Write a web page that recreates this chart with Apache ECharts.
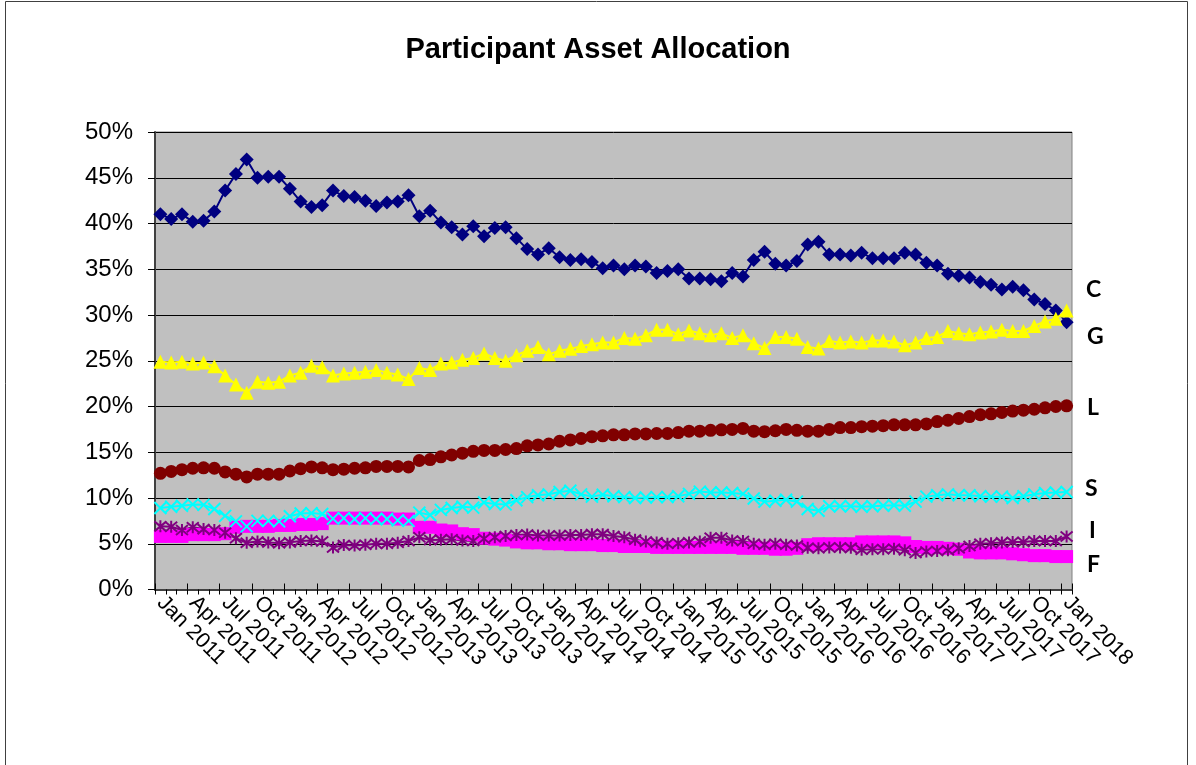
<!DOCTYPE html>
<html>
<head>
<meta charset="utf-8">
<script src="https://cdn.jsdelivr.net/npm/echarts@6/dist/echarts.min.js"></script>
<style>
html,body{margin:0;padding:0;background:#ffffff;}
#chart{width:1196px;height:765px;}
</style>
</head>
<body>
<div id="chart"></div>
<script>
// ---- categories (monthly, Jan 2011 .. Jan 2018) ----
const monthNames = ['Jan','Feb','Mar','Apr','May','Jun','Jul','Aug','Sep','Oct','Nov','Dec'];
const years = [2011, 2012, 2013, 2014, 2015, 2016, 2017, 2018];
const categories = [];
years.forEach(function (y) {
  monthNames.forEach(function (m, mi) {
    if (y < 2018 || mi === 0) categories.push(m + ' ' + y);
  });
});

// ---- series values (percent of assets) ----
const seriesC = [41.0, 40.5, 41.0, 40.2, 40.3, 41.3, 43.6, 45.4, 47.0, 45.0, 45.1, 45.1, 43.8, 42.4, 41.8, 42.0, 43.6, 43.0, 42.9, 42.5, 41.9, 42.3, 42.4, 43.1, 40.8, 41.4, 40.1, 39.6, 38.8,
  39.7, 38.6, 39.5, 39.6, 38.4, 37.2, 36.6, 37.3, 36.3, 36.0, 36.1, 35.8, 35.1, 35.4, 35.0, 35.4, 35.3, 34.6, 34.8, 35.0, 34.0, 34.0, 33.9, 33.7, 34.6, 34.2, 36.0, 36.9, 35.6,
  35.4, 35.9, 37.7, 38.0, 36.6, 36.6, 36.5, 36.8, 36.2, 36.2, 36.2, 36.8, 36.6, 35.7, 35.4, 34.5, 34.3, 34.1, 33.6, 33.3, 32.8, 33.1, 32.7, 31.7, 31.2, 30.5, 29.2];
const seriesG = [24.9, 24.8, 24.9, 24.7, 24.8, 24.4,
  23.4, 22.4, 21.5, 22.7, 22.6, 22.7, 23.4, 23.7, 24.45, 24.3, 23.4, 23.6, 23.7, 23.8, 24.0, 23.7, 23.5, 23.0, 24.2, 24.0, 24.7, 24.8,
  25.1, 25.3, 25.8, 25.3, 25.0, 25.6, 26.1, 26.5, 25.7, 26.1, 26.3, 26.6, 26.8, 27.0, 27.0, 27.5, 27.4, 27.8, 28.4, 28.4, 27.9, 28.3, 28.0, 27.8, 28.0, 27.5, 27.8, 26.9, 26.4,
  27.6, 27.6, 27.4, 26.5, 26.35, 27.15, 27.0, 27.1, 27.0, 27.2, 27.2, 27.1, 26.7, 27.0, 27.5, 27.6, 28.25, 28.0, 27.9, 28.1, 28.2, 28.4, 28.25, 28.25, 28.8, 29.3, 29.6, 30.5];
const seriesL = [12.7, 12.9, 13.1, 13.25, 13.3, 13.25, 12.85, 12.6, 12.3, 12.6, 12.6, 12.6, 12.95, 13.2, 13.4, 13.3, 13.1, 13.15, 13.25, 13.3, 13.45, 13.45, 13.45, 13.4, 14.1, 14.2, 14.5, 14.7, 14.9,
  15.1, 15.2, 15.2, 15.3, 15.4, 15.7, 15.8, 15.9, 16.2, 16.35, 16.5, 16.7, 16.8, 16.9, 16.9, 17.0, 17.0, 17.05, 17.05, 17.15, 17.3, 17.3, 17.4, 17.45, 17.5, 17.6, 17.3, 17.25, 17.35,
  17.5, 17.4, 17.3, 17.3, 17.5, 17.7, 17.7, 17.8, 17.85, 17.9, 18.0, 18.0, 18.0, 18.1, 18.35, 18.5, 18.7, 18.9, 19.1, 19.2, 19.35, 19.5, 19.6, 19.7, 19.85, 20.0, 20.07];
const seriesS = [8.9, 9.05, 9.15, 9.3, 9.25, 8.8, 8.05, 7.45, 6.9, 7.5, 7.5, 7.45, 8.0, 8.3, 8.35, 8.25, 7.75, 7.8, 7.7, 7.8, 7.7, 7.7, 7.55, 7.5, 8.4, 8.15, 8.7, 8.9, 9.05,
  8.95, 9.5, 9.35, 9.3, 9.75, 10.1, 10.3, 10.4, 10.65, 10.8, 10.4, 10.15, 10.35, 10.2, 10.1, 10.0, 10.05, 10.1, 10.1, 10.2, 10.45, 10.7, 10.6, 10.6, 10.55, 10.45, 9.95, 9.6, 9.7,
  9.8, 9.6, 8.8, 8.6, 9.1, 9.1, 9.1, 9.05, 9.1, 9.15, 9.2, 9.15, 9.6, 10.15, 10.3, 10.4, 10.3, 10.3, 10.2, 10.15, 10.15, 10.0, 10.2, 10.4, 10.55, 10.6, 10.65];
const seriesI = [6.9, 6.85, 6.5, 6.8, 6.6, 6.5, 6.2, 5.6, 5.1, 5.25, 5.15, 5.05, 5.15, 5.3, 5.35, 5.25, 4.6, 4.85, 4.8, 4.9, 5.0, 5.0, 5.1, 5.3, 5.7, 5.4, 5.45, 5.5, 5.35,
  5.3, 5.55, 5.7, 5.85, 5.95, 6.0, 5.9, 5.9, 5.9, 5.95, 5.95, 6.05, 6.05, 5.85, 5.7, 5.45, 5.25, 5.15, 5.0, 5.05, 5.15, 5.25, 5.65, 5.65, 5.35, 5.3, 5.0, 4.9, 5.0,
  4.9, 4.8, 4.55, 4.5, 4.6, 4.6, 4.55, 4.35, 4.4, 4.4, 4.45, 4.3, 4.0, 4.15, 4.2, 4.3, 4.5, 4.75, 5.0, 5.05, 5.15, 5.2, 5.2, 5.3, 5.3, 5.3, 5.8];
const seriesF = [5.8, 5.8, 5.8, 6.0, 6.0, 6.0, 6.1, 6.8, 6.9, 6.9, 6.9, 7.0, 7.0, 7.1, 7.1, 7.2, 7.8, 7.8, 7.8, 7.8, 7.8, 7.8, 7.7, 7.7, 6.8, 6.8, 6.5, 6.4, 6.1,
  6.0, 5.6, 5.5, 5.4, 5.2, 5.1, 5.1, 5.0, 5.0, 4.9, 4.9, 4.9, 4.8, 4.8, 4.7, 4.7, 4.7, 4.6, 4.6, 4.6, 4.6, 4.6, 4.6, 4.6, 4.6, 4.5, 4.5, 4.5, 4.4,
  4.4, 4.5, 4.9, 5.0, 5.0, 5.0, 5.0, 5.2, 5.2, 5.2, 5.2, 5.1, 4.7, 4.6, 4.6, 4.5, 4.4, 4.1, 4.0, 4.0, 4.0, 3.9, 3.8, 3.7, 3.7, 3.6, 3.6];

// ---- labels ----
const titleText = 'Participant Asset Allocation';
const fundLabels = ['C', 'G', 'L', 'S', 'I', 'F'];

const chart = echarts.init(document.getElementById('chart'), null, {renderer: 'canvas'});

const xMark = 'path://M0,0L10,10M10,0L0,10';
const starMark = 'path://M0,0L10,10M10,0L0,10M5,-1L5,11';

function lineSeries(name, data, color, symbol, size, extra) {
  const s = {
    name: name, type: 'line', data: data,
    symbol: symbol, symbolSize: size, showAllSymbol: true,
    lineStyle: {color: color, width: 2},
    itemStyle: {color: color, borderColor: color, borderWidth: 0},
    emphasis: {disabled: true},
    animation: false
  };
  return Object.assign(s, extra || {});
}

const labelY = [290, 337, 408, 489, 531, 565];
const labelX = [1086, 1087, 1087, 1085, 1089, 1087];

const option = {
  animation: false,
  backgroundColor: '#ffffff',
  title: {
    text: titleText, left: 'center', top: 30,
    textStyle: {fontFamily: 'Liberation Sans, Arial, sans-serif', fontWeight: 'bold', fontSize: 29, color: '#000'}
  },
  grid: {
    left: 155, top: 132, width: 917, height: 457.5,
    show: true, backgroundColor: '#C0C0C0', borderColor: '#808080', borderWidth: 1,
    outerBoundsMode: 'none', containLabel: false
  },
  xAxis: [{
    type: 'category', data: categories, boundaryGap: true, position: 'bottom',
    axisLine: {show: true, lineStyle: {color: '#404040', width: 2}},
    axisTick: {show: true, interval: 0, length: 5, lineStyle: {color: '#000'}},
    axisLabel: {interval: 2, rotate: -45, fontSize: 21.5, fontFamily: 'Liberation Sans, Arial, sans-serif', color: '#000', margin: 10},
    splitLine: {show: false}
  }, {
    type: 'category', data: categories, boundaryGap: true, position: 'bottom',
    axisLine: {show: false},
    axisTick: {show: true, inside: true, interval: 2, length: 6, lineStyle: {color: '#000'}},
    axisLabel: {show: false},
    splitLine: {show: false}
  }],
  yAxis: {
    type: 'value', min: 0, max: 50, interval: 5,
    axisLine: {show: true, lineStyle: {color: '#404040', width: 2}},
    axisTick: {show: true, length: 7, lineStyle: {color: '#000'}},
    axisLabel: {formatter: '{value}%', fontSize: 24, fontFamily: 'Liberation Sans, Arial, sans-serif', color: '#000', margin: 22},
    splitLine: {show: true, lineStyle: {color: '#000', width: 1}}
  },
  series: [
    lineSeries('F', seriesF, '#FF00FF', 'rect', 13, {lineStyle: {color: '#FF00FF', width: 4}}),
    lineSeries('C', seriesC, '#000080', 'diamond', 14),
    lineSeries('G', seriesG, '#FFFF00', 'triangle', 14),
    lineSeries('L', seriesL, '#800000', 'circle', 13),
    lineSeries('S', seriesS, '#00FFFF', xMark, 12, {itemStyle: {color: 'none', borderColor: '#00FFFF', borderWidth: 2}}),
    lineSeries('I', seriesI, '#800080', starMark, 12, {itemStyle: {color: 'none', borderColor: '#800080', borderWidth: 2}})
  ],
  graphic: [{
    type: 'rect', silent: true, z: -1,
    shape: {x: 5.5, y: 1.5, width: 1182, height: 800},
    style: {fill: 'none', stroke: '#404040', lineWidth: 1}
  }].concat(fundLabels.map(function (t, i) {
    return {
      type: 'text', silent: true, x: labelX[i], y: labelY[i],
      style: {text: t, fill: '#000', font: 'bold 23px Lato, "Open Sans", sans-serif', textAlign: 'left', textVerticalAlign: 'middle'}
    };
  }))
};

chart.setOption(option);
</script>
</body>
</html>
